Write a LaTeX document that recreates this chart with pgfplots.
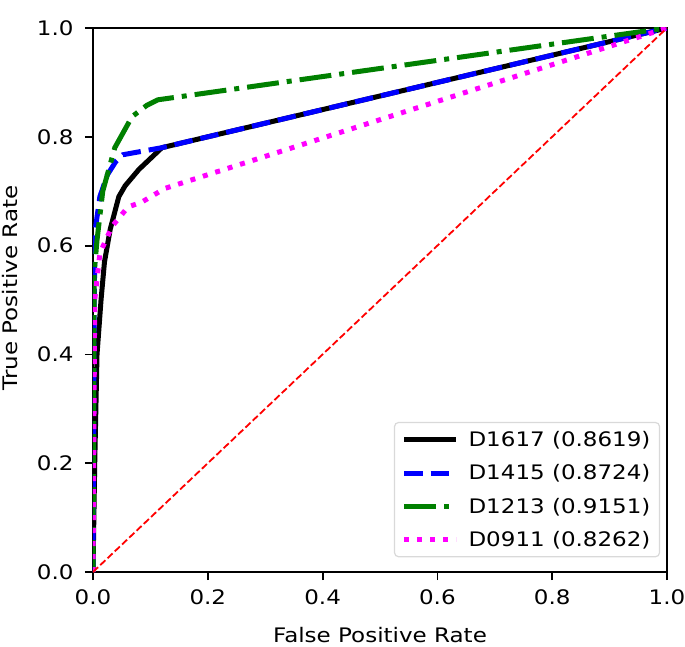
\documentclass[border=0pt]{standalone}
\usepackage{fontspec}
\setmainfont{DejaVu Sans}[FakeStretch=1.15]
\usepackage{pgfplots}
\pgfplotsset{compat=1.18}
\definecolor{mblue}{RGB}{0,0,255}
\definecolor{mgreen}{RGB}{0,128,0}
\definecolor{mmag}{RGB}{255,0,255}
\definecolor{mred}{RGB}{255,0,0}
\begin{document}
\begin{tikzpicture}
\begin{axis}[
  name=ax,
  scale only axis,
  width=574pt, height=544pt,
  xmin=0, xmax=1, ymin=0, ymax=1,
  xtick={0,0.2,0.4,0.6,0.8,1.0},
  ytick={0,0.2,0.4,0.6,0.8,1.0},
  xticklabel style={/pgf/number format/fixed,/pgf/number format/fixed zerofill,/pgf/number format/precision=1, yshift=-6pt},
  yticklabel style={/pgf/number format/fixed,/pgf/number format/fixed zerofill,/pgf/number format/precision=1, xshift=-8pt},
  /pgf/number format/assume math mode=true,
  tick label style={font=\fontsize{20}{23}\selectfont},
  xlabel={False Positive Rate},
  ylabel={True Positive Rate},
  xlabel style={font=\fontsize{20}{23}\selectfont, at={(axis description cs:0.5,-0.115)}, anchor=center, inner sep=0pt},
  ylabel style={font=\fontsize{20}{23}\selectfont, at={(axis description cs:-0.144,0.522)}, anchor=center, inner sep=0pt},
  tick align=outside,
  xtick pos=bottom, ytick pos=left,
  major tick length=8pt,
  every tick/.style={black, line width=1.8pt},
  axis line style={line width=2pt},
  legend style={at={(rel axis cs:0.988,0.027)}, anchor=south east,
    draw=gray!30, rounded corners=4pt, line width=1.2pt,
    font=\fontsize{20}{23}\selectfont, row sep=12.5pt, inner xsep=7pt, inner ysep=7pt,
    /tikz/every odd column/.append style={column sep=8pt}},
  legend cell align=left,
  legend image code/.code={\draw[#1] (0pt,0pt) -- (52pt,0pt);},
]
\addplot[black, line width=5pt, line join=round] coordinates {
(0,0) (0.003,0.2) (0.007,0.4) (0.014,0.5) (0.02,0.57) (0.03,0.63) (0.045,0.69) (0.056,0.71) (0.08,0.74) (0.12,0.78) (1,1)};
\addlegendentry{D1617 (0.8619)}
\addplot[mblue, line width=5pt, dash pattern=on 18.5pt off 8pt] coordinates {
(0,0) (0.002,0.5) (0.004,0.63) (0.012,0.69) (0.025,0.73) (0.04,0.755) (0.052,0.767) (0.12,0.78) (1,1)};
\addlegendentry{D1415 (0.8724)}
\addplot[mgreen, line width=5pt, dash pattern=on 32pt off 8pt on 5pt off 8pt] coordinates {
(0,0) (0.002,0.55) (0.007,0.61) (0.017,0.70) (0.038,0.78) (0.068,0.837) (0.094,0.858) (0.113,0.868) (1,1)};
\addlegendentry{D1213 (0.9151)}
\addplot[mmag, line width=5pt, dash pattern=on 5pt off 8pt] coordinates {
(0,0) (0.003,0.5) (0.012,0.586) (0.033,0.635) (0.061,0.671) (0.085,0.68) (0.125,0.705) (1,1)};
\addlegendentry{D0911 (0.8262)}
\addplot[mred, line width=1.8pt, dash pattern=on 7pt off 3pt, forget plot] coordinates {(0,0) (1,1)};
\end{axis}
\pgfresetboundingbox
\path[use as bounding box] ([xshift=-93pt,yshift=-74pt]ax.south west) rectangle ([xshift=18pt,yshift=28pt]ax.north east);
\end{tikzpicture}
\end{document}
